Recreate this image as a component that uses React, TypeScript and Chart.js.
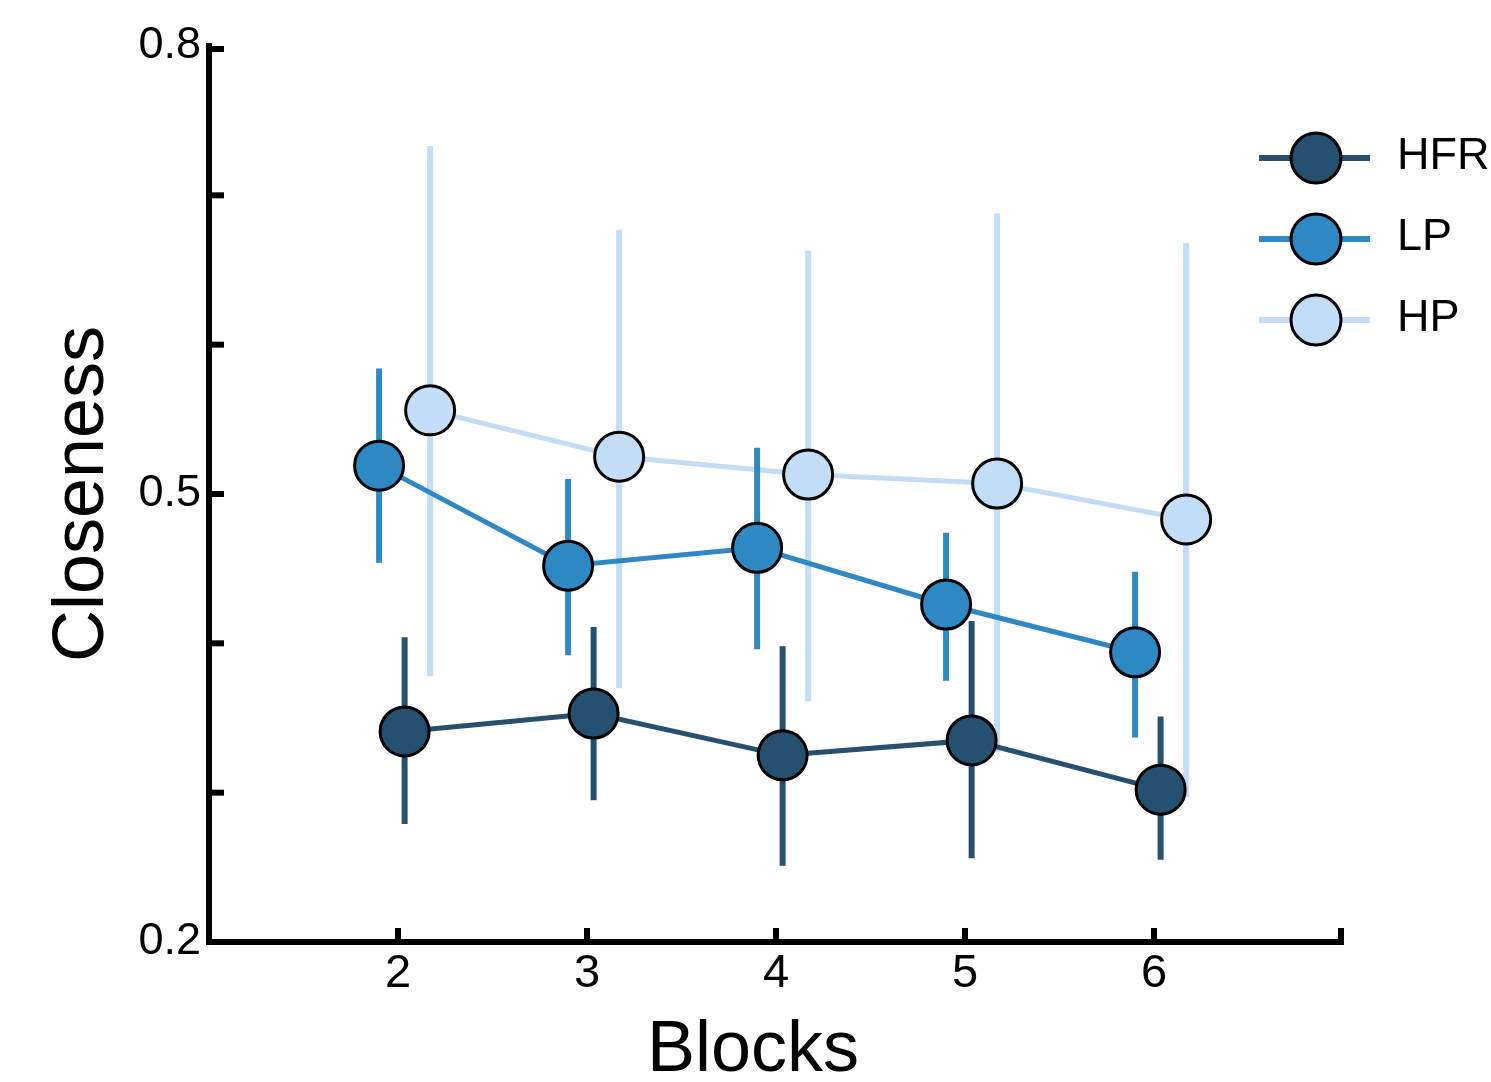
import React, { useEffect, useRef } from 'react';
import { Chart, registerables } from 'chart.js';

Chart.register(...registerables);

// ---- data ----
const blocks = [2, 3, 4, 5, 6];
const seriesNames = ['HFR', 'LP', 'HP'];

const hfrMean = [0.341, 0.353, 0.325, 0.335, 0.302];
const hfrLow = [0.279, 0.295, 0.251, 0.256, 0.255];
const hfrHigh = [0.404, 0.411, 0.398, 0.415, 0.351];

const lpMean = [0.519, 0.452, 0.464, 0.426, 0.394];
const lpLow = [0.454, 0.392, 0.396, 0.375, 0.337];
const lpHigh = [0.584, 0.510, 0.531, 0.474, 0.448];

const hpMean = [0.556, 0.525, 0.513, 0.507, 0.483];
const hpLow = [0.378, 0.370, 0.361, 0.327, 0.297];
const hpHigh = [0.733, 0.677, 0.663, 0.688, 0.668];

const xTickLabels = ['2', '3', '4', '5', '6'];
const yTickLabels = ['0.2', '0.5', '0.8'];

// ---- styles ----
const colors = ['#25506f', '#2e88c4', '#c2ddf5'];
const xOffsets = [0.035, -0.1, 0.17];
const FONT = '"Liberation Sans", Arial, Helvetica, sans-serif';

const means = [hfrMean, lpMean, hpMean];
const lows = [hfrLow, lpLow, hpLow];
const highs = [hfrHigh, lpHigh, hpHigh];

const errorBarPlugin = {
  id: 'errorBars',
  beforeDatasetDraw(chart: any, args: any) {
    const i = args.index;
    const { ctx } = chart;
    const xs = chart.scales.x;
    const ys = chart.scales.y;
    ctx.save();
    ctx.strokeStyle = colors[i];
    ctx.lineWidth = 6;
    ctx.lineCap = 'butt';
    blocks.forEach((b, k) => {
      const px = xs.getPixelForValue(b + xOffsets[i]);
      ctx.beginPath();
      ctx.moveTo(px, ys.getPixelForValue(lows[i][k]));
      ctx.lineTo(px, ys.getPixelForValue(highs[i][k]));
      ctx.stroke();
    });
    ctx.restore();
  },
};

const inwardTicksPlugin = {
  id: 'inwardTicks',
  afterDraw(chart: any) {
    const { ctx, chartArea } = chart;
    const xs = chart.scales.x;
    const ys = chart.scales.y;
    ctx.save();
    ctx.strokeStyle = '#000';
    ctx.lineWidth = 6;
    ctx.lineCap = 'butt';
    xs.ticks.forEach((t: any) => {
      if (t.value <= xs.min) return;
      const px = Math.min(xs.getPixelForValue(t.value), chartArea.right - 2);
      ctx.beginPath();
      ctx.moveTo(px, chartArea.bottom);
      ctx.lineTo(px, chartArea.bottom - 14);
      ctx.stroke();
    });
    ys.ticks.forEach((t: any) => {
      if (t.value <= ys.min + 1e-9) return;
      const py = Math.max(ys.getPixelForValue(t.value), chartArea.top + 3);
      ctx.beginPath();
      ctx.moveTo(chartArea.left, py);
      ctx.lineTo(chartArea.left + 15, py);
      ctx.stroke();
    });
    ctx.restore();
  },
};

const xTitlePlugin = {
  id: 'xTitle',
  afterDraw(chart: any) {
    const { ctx } = chart;
    ctx.save();
    ctx.fillStyle = '#000';
    ctx.font = `72px ${FONT}`;
    ctx.textAlign = 'center';
    ctx.textBaseline = 'alphabetic';
    ctx.fillText('Blocks', 753, 1071);
    ctx.restore();
  },
};

const legendPlugin = {
  id: 'customLegend',
  afterDraw(chart: any) {
    const { ctx } = chart;
    ctx.save();
    seriesNames.forEach((name, i) => {
      const y = 158 + i * 81;
      ctx.strokeStyle = colors[i];
      ctx.lineWidth = 6;
      ctx.beginPath();
      ctx.moveTo(1259, y);
      ctx.lineTo(1370, y);
      ctx.stroke();
      ctx.beginPath();
      ctx.arc(1316, y, 25, 0, Math.PI * 2);
      ctx.fillStyle = colors[i];
      ctx.fill();
      ctx.lineWidth = 3;
      ctx.strokeStyle = '#000';
      ctx.stroke();
      ctx.fillStyle = '#000';
      ctx.font = `45px ${FONT}`;
      ctx.textAlign = 'left';
      ctx.textBaseline = 'middle';
      ctx.fillText(name, 1397, y - 1);
    });
    ctx.restore();
  },
};

export default function App() {
  const ref = useRef<HTMLCanvasElement | null>(null);

  useEffect(() => {
    if (!ref.current) return;
    Chart.defaults.font.family = FONT;
    const chart = new Chart(ref.current, {
      type: 'line',
      data: {
        datasets: seriesNames.map((name, i) => ({
          label: name,
          data: blocks.map((b, k) => ({ x: b + xOffsets[i], y: means[i][k] })),
          borderColor: colors[i],
          backgroundColor: colors[i],
          borderWidth: 5,
          pointRadius: 24.5,
          pointHoverRadius: 24.5,
          pointBackgroundColor: colors[i],
          pointBorderColor: '#000',
          pointBorderWidth: 3,
          tension: 0,
          fill: false,
          clip: false,
        })),
      },
      options: {
        responsive: false,
        animation: false,
        events: [],
        layout: { padding: { top: 46, right: 148, bottom: 0, left: 0 } },
        plugins: {
          legend: { display: false },
          tooltip: { enabled: false },
        },
        scales: {
          x: {
            type: 'linear',
            min: 1,
            max: 7,
            ticks: {
              stepSize: 1,
              autoSkip: false,
              maxRotation: 0,
              color: '#000',
              padding: 4,
              font: { size: 47, family: FONT },
              callback: (v: any) => {
                const s = String(Math.round(Number(v)));
                return xTickLabels.includes(s) ? s : '';
              },
            },
            grid: { display: true, drawOnChartArea: false, drawTicks: false },
            border: { display: true, color: '#000', width: 6 },
            afterFit: (s: any) => {
              s.height = 140;
            },
          },
          y: {
            type: 'linear',
            min: 0.2,
            max: 0.8,
            ticks: {
              stepSize: 0.1,
              color: '#000',
              padding: 8,
              font: { size: 45, family: FONT },
              callback: (v: any) => {
                const s = (Math.round(Number(v) * 10) / 10).toFixed(1);
                return yTickLabels.includes(s) ? s : '';
              },
            },
            grid: { display: true, drawOnChartArea: false, drawTicks: false },
            border: { display: true, color: '#000', width: 6 },
            title: {
              display: true,
              text: 'Closeness',
              color: '#000',
              font: { size: 72, family: FONT },
              padding: { top: 40, bottom: 0 },
            },
            afterFit: (s: any) => {
              s.width = 209;
            },
          },
        },
      },
      plugins: [errorBarPlugin, inwardTicksPlugin, xTitlePlugin, legendPlugin],
    } as any);
    return () => chart.destroy();
  }, []);

  return (
    <div style={{ position: 'absolute', left: 0, top: 0, width: 1491, height: 1082, background: '#fff' }}>
      <canvas ref={ref} width={1491} height={1082} style={{ width: 1491, height: 1082 }} />
    </div>
  );
}
